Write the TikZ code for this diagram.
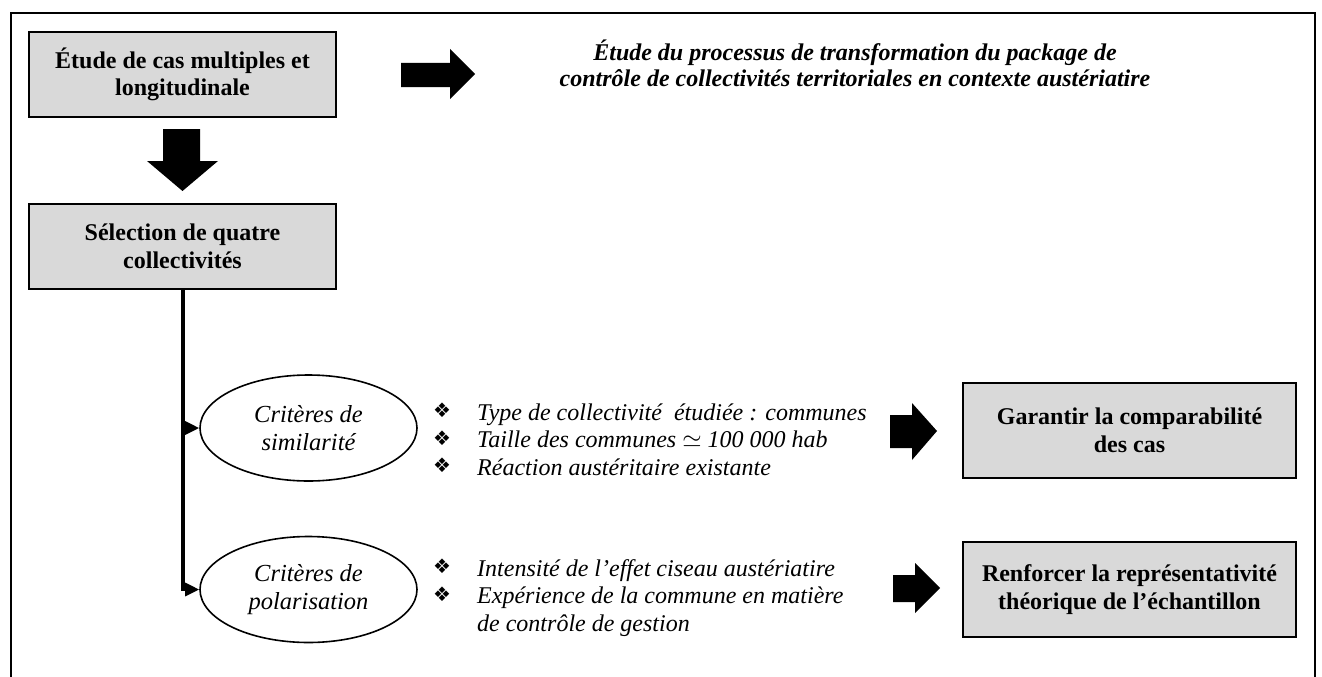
\documentclass[tikz,border=0pt]{standalone}
\usepackage{fontspec}
\setmainfont{Liberation Serif}
\newfontfamily\symfont{DejaVu Sans}
\usetikzlibrary{arrows.meta,shapes.geometric}
\definecolor{boxgray}{RGB}{217,217,217}
\newcommand{\bul}{\makebox[44pt][l]{\raisebox{2.5pt}{\symfont\fontsize{20}{20}\selectfont ❖}}}
\begin{document}
\begin{tikzpicture}[x=1pt,y=-1pt,
  every node/.style={font=\fontsize{24}{27.6}\selectfont, inner sep=0pt},
  graybox/.style={draw, line width=2pt, fill=boxgray, align=center,
    font=\fontsize{24}{27.6}\selectfont\bfseries},
  leftbox/.style={graybox, minimum width=307pt, minimum height=85pt},
  rightbox/.style={graybox, minimum width=333pt, minimum height=95pt},
  crit/.style={draw, ellipse, line width=1.6pt, minimum width=217pt, minimum height=106pt,
    align=center, font=\fontsize{24.5}{28}\selectfont\itshape},
  blockarrow/.style={fill=black},
  conn/.style={line width=4pt},
  branch/.style={line width=3pt, -{Triangle[length=14pt,width=13pt]}},
  listtext/.style={anchor=base west, font=\fontsize{24}{27.6}\selectfont\itshape},
  frameline/.style={line width=1.5pt}
]
\useasboundingbox (0,0) rectangle (1322,677);
% outer frame (open at bottom)
\draw[frameline] (11,677) -- (11,13) -- (1315,13) -- (1315,677);

% boxes
\node[leftbox] (b1) at (182.5,74.5) {Étude de cas multiples et\\longitudinale};
\node[leftbox] (b2) at (182.5,246.5) {Sélection de quatre\\collectivités};
\node[rightbox] (b3) at (1129.5,430.5) {Garantir la comparabilité\\des cas};
\node[rightbox] (b4) at (1129.5,589.5) {Renforcer la représentativité\\théorique de l’échantillon};

% top text
\node[align=center, font=\fontsize{24}{26}\selectfont\bfseries\itshape] (top) at (855,63)
  {Étude du processus de transformation du package de\\contrôle de collectivités territoriales en contexte austériatire};

% ellipses
\node[crit] (e1) at (308.5,428) {Critères de\\similarité};
\node[crit] (e2) at (308.5,589.5) {Critères de\\polarisation};

% connectors
\draw[conn] (b2.south) -- (b2.south |- e2.west);
\draw[branch] ([xshift=-1.5pt]b2.south |- e1.west) -- (e1.west);
\draw[branch] ([xshift=-1.5pt]b2.south |- e2.west) -- (e2.west);

% block arrows
\fill[blockarrow] (163,129) -- (200,129) -- (200,161) -- (218,161) -- (182.5,191)
  -- (147,161) -- (163,161) -- cycle;
\fill[blockarrow] (401,63) -- (450,63) -- (450,49) -- (475,74) -- (450,99) -- (450,87)
  -- (401,87) -- cycle;
\fill[blockarrow] (890,415) -- (912,415) -- (912,403) -- (937,431) -- (912,460) -- (912,448)
  -- (890,448) -- cycle;
\fill[blockarrow] (893,575) -- (915,575) -- (915,563) -- (940,588) -- (915,613) -- (915,602)
  -- (893,602) -- cycle;

% bullet lists
\node[listtext] (l1) at (433,420) {\begin{tabular}[t]{@{}l@{}l@{}}
\bul & Type de collectivité\ \ étudiée : communes\\
\bul & Taille des communes $\simeq$ 100 000 hab\\
\bul & Réaction austéritaire existante
\end{tabular}};
\node[listtext] (l2) at (433,576) {\begin{tabular}[t]{@{}l@{}l@{}}
\bul & Intensité de l’effet ciseau austériatire\\
\bul & Expérience de la commune en matière\\
 & de contrôle de gestion
\end{tabular}};
\end{tikzpicture}
\end{document}
